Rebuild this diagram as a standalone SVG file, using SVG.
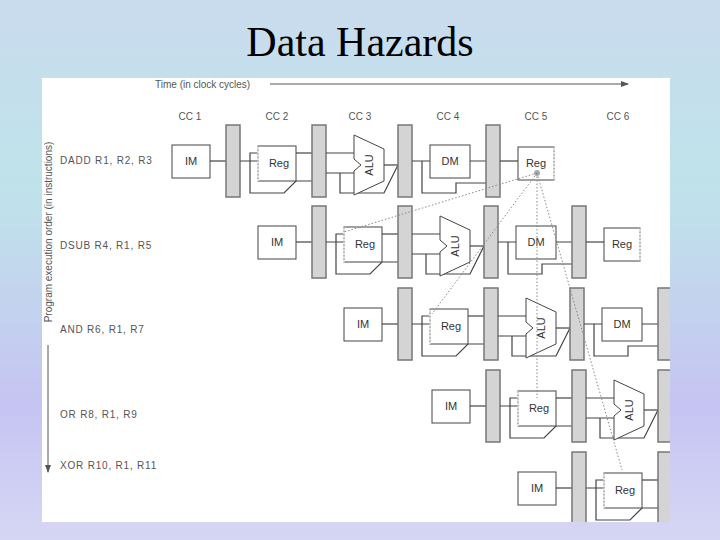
<svg xmlns="http://www.w3.org/2000/svg" width="720" height="540" viewBox="0 0 720 540">
<defs>
<linearGradient id="bg" x1="0" y1="0" x2="0" y2="1">
<stop offset="0" stop-color="#c9dcee"/><stop offset="0.35" stop-color="#bfe3ea"/><stop offset="0.75" stop-color="#c6c4f2"/><stop offset="1" stop-color="#d6d6f4"/>
</linearGradient>
<clipPath id="cp"><rect x="42" y="78" width="628" height="444"/></clipPath>
<marker id="ah" markerWidth="8" markerHeight="8" refX="7" refY="4" orient="auto" markerUnits="userSpaceOnUse"><path d="M0,1 L8,4 L0,7 z" fill="#555"/></marker>
<style>
.t{font-family:"Liberation Sans",Arial,sans-serif;font-size:10px;fill:#555}
.i{letter-spacing:0.8px}
.bx{font-family:"Liberation Sans",Arial,sans-serif;font-size:11px;fill:#333}
.l{fill:#d4d4d4;stroke:#777;stroke-width:1.5}
.s{fill:#fff;stroke:#444;stroke-width:1}
.w{fill:none;stroke:#444;stroke-width:1.2}
.d{fill:none;stroke:#888;stroke-width:1;stroke-dasharray:1.5,2}
</style>
<g id="row">
<rect class="s" x="-54" y="20" width="38" height="33"/>
<text class="bx" x="-35" y="40" text-anchor="middle">IM</text>
<line class="w" x1="-16" y1="36" x2="0" y2="36"/>
<rect class="l" x="0" y="0" width="14" height="72"/>
<path class="w" d="M14,36 H32 M24,36 V28 H32 M24,36 V68 H58 L70,56 H86"/>
<rect class="s" x="32" y="21" width="38" height="35"/>
<line x1="32" y1="21" x2="32" y2="56" stroke="#fff" stroke-width="1.5"/>
<line class="d" x1="32" y1="21" x2="32" y2="56" stroke="#444"/>
<text class="bx" x="53" y="42" text-anchor="middle">Reg</text>
<line class="w" x1="70" y1="28" x2="86" y2="28"/>
<rect class="l" x="86" y="0" width="14" height="72"/>
<path class="w" d="M100,28 H128 M100,48 H128 M114,48 V68 H158 L172,40"/>
<polygon class="s" points="128,10 158,24 158,56 128,70 128,46 135,40 128,34"/>
<text class="bx" transform="translate(147,40) rotate(-90)" text-anchor="middle">ALU</text>
<line class="w" x1="158" y1="40" x2="172" y2="40"/>
<rect class="l" x="172" y="0" width="14" height="72"/>
<path class="w" d="M186,36 H204 M196,36 V68 H230 V58 H260 M244,36 H260"/>
<rect class="s" x="204" y="20" width="40" height="33"/>
<text class="bx" x="224" y="40" text-anchor="middle">DM</text>
<rect class="l" x="260" y="0" width="14" height="72"/>
<line class="w" x1="274" y1="36" x2="292" y2="36"/>
<rect class="s" x="292" y="22" width="36" height="33"/>
<line x1="328" y1="22" x2="328" y2="55" stroke="#fff" stroke-width="1.5"/>
<line class="d" x1="328" y1="22" x2="328" y2="55"/>
<text class="bx" x="310" y="42" text-anchor="middle">Reg</text>
</g>
</defs>
<rect width="720" height="540" fill="url(#bg)"/>
<text x="360" y="56" font-family="Liberation Serif,serif" font-size="42" text-anchor="middle" fill="#000">Data Hazards</text>
<rect x="42" y="78" width="628" height="444" fill="#fff"/>
<g id="axes">
<text class="t" x="155" y="88">Time (in clock cycles)</text>
<line x1="270" y1="84" x2="628" y2="84" stroke="#555" marker-end="url(#ah)"/>
<text class="t" transform="translate(52,232) rotate(-90)" text-anchor="middle">Program execution order (in instructions)</text>
<line x1="48" y1="345" x2="48" y2="472" stroke="#555" marker-end="url(#ah)"/>
<text class="t" x="190" y="120" text-anchor="middle">CC 1</text>
<text class="t" x="277" y="120" text-anchor="middle">CC 2</text>
<text class="t" x="360" y="120" text-anchor="middle">CC 3</text>
<text class="t" x="448" y="120" text-anchor="middle">CC 4</text>
<text class="t" x="536" y="120" text-anchor="middle">CC 5</text>
<text class="t" x="618" y="120" text-anchor="middle">CC 6</text>
<text class="t i" x="60" y="164">DADD R1, R2, R3</text>
<text class="t i" x="60" y="249">DSUB R4, R1, R5</text>
<text class="t i" x="60" y="333">AND R6, R1, R7</text>
<text class="t i" x="60" y="418">OR R8, R1, R9</text>
<text class="t i" x="60" y="469">XOR R10, R1, R11</text>
</g>
<g clip-path="url(#cp)">
<g id="i1"><use href="#row" transform="translate(226,125)"/></g>
<g id="i2"><use href="#row" transform="translate(312,206)"/></g>
<g id="i3"><use href="#row" transform="translate(398,288)"/></g>
<g id="i4"><use href="#row" transform="translate(486,370)"/></g>
<g id="i5"><use href="#row" transform="translate(572,452)"/></g>
</g>
<g id="connectors" class="d">
<circle cx="537" cy="173" r="3" fill="#aaa" stroke="none"/>
<line x1="537" y1="173" x2="344" y2="232"/>
<line x1="537" y1="173" x2="432" y2="314"/>
<line x1="537" y1="173" x2="537" y2="398"/>
<line x1="537" y1="173" x2="622" y2="470"/>
</g>
</svg>
